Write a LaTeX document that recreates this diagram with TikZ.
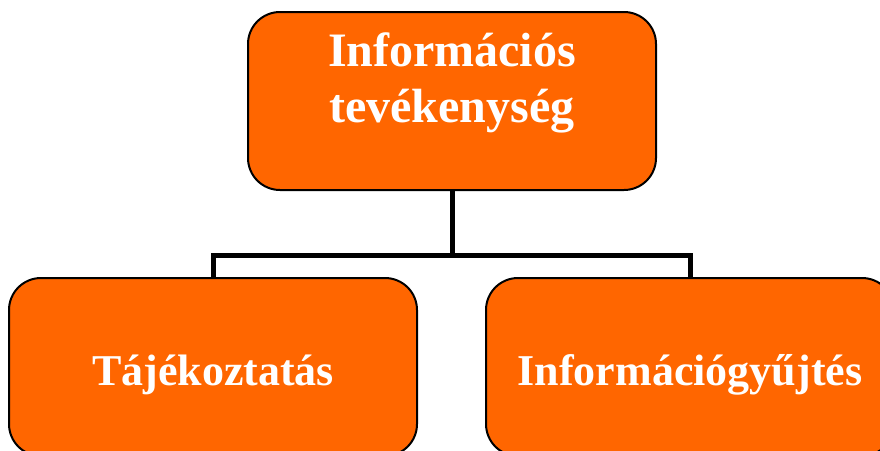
\documentclass[tikz,border=0pt]{standalone}
\usepackage{fontspec}
\setmainfont{Liberation Serif}
\definecolor{narancs}{HTML}{FF6600}
\begin{document}
\begin{tikzpicture}[x=0.75pt,y=-0.75pt,
  doboz/.style={draw=black,line width=1.5pt,fill=narancs,rounded corners=24pt,
    minimum width=306pt,minimum height=133.5pt,inner sep=0pt,text=white},
  also/.style={font=\bfseries\fontsize{33pt}{40pt}\selectfont,text height=30pt,text depth=3pt},
  vonal/.style={line width=3.75pt}]
\clip (0,0) rectangle (880,450);
\node[doboz,font=\bfseries\fontsize{36pt}{42pt}\selectfont] (info) at (452,101)
  {\parbox[c][102pt][t]{285pt}{\centering Információs\\ tevékenység}};
\node[doboz,also] (taj) at (213,367) {Tájékoztatás};
\node[doboz,also] (gyujt) at (690,367) {Információgyűjtés};
\coordinate (elag) at (452,255);
\draw[vonal] (info) -- (elag);
\draw[vonal] (taj) |- (elag) -| (gyujt);
\end{tikzpicture}
\end{document}
